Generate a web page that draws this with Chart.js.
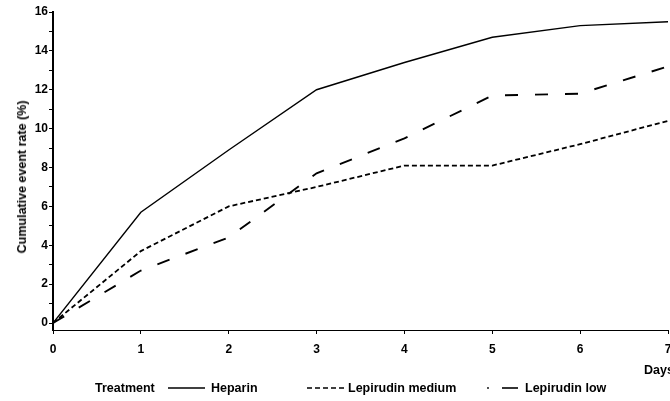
<!DOCTYPE html>
<html>
<head>
<meta charset="utf-8">
<script src="https://cdn.jsdelivr.net/npm/chart.js@4.4.1/dist/chart.umd.min.js"></script>
<style>
  html, body { margin: 0; padding: 0; background: #fff; }
  #wrap { position: relative; width: 670px; height: 401px; overflow: hidden; font-family: "Liberation Sans", Arial, sans-serif; font-weight: bold; font-size: 12.5px; color: #000; }
  canvas { position: absolute; left: 0; top: 0; }
  .lbl { position: absolute; white-space: nowrap; line-height: 14px; }
  svg.leg { position: absolute; overflow: visible; }
  #ytitle { position: absolute; left: 22px; top: 177px; transform: translate(-50%, -50%) rotate(-90deg); white-space: nowrap; line-height: 14px; }
</style>
</head>
<body>
<div id="wrap">
  <canvas id="c" width="670" height="401"></canvas>
  <div id="ytitle">Cumulative event rate (%)</div>
  <div class="lbl" style="left:644px; top:363px;">Days</div>
  <div class="lbl" style="left:95px; top:381px;">Treatment</div>
  <svg class="leg" style="left:0; top:0;" width="670" height="401">
    <line x1="168" y1="388" x2="205" y2="388" stroke="#000" stroke-width="1.3"/>
    <line x1="307" y1="388" x2="344" y2="388" stroke="#000" stroke-width="1.5" stroke-dasharray="5,3"/>
    <circle cx="488" cy="388" r="0.9" fill="#000"/>
    <line x1="502" y1="388" x2="518" y2="388" stroke="#000" stroke-width="1.6"/>
  </svg>
  <div class="lbl" style="left:211px; top:381px;">Heparin</div>
  <div class="lbl" style="left:348px; top:381px;">Lepirudin medium</div>
  <div class="lbl" style="left:525px; top:381px;">Lepirudin low</div>
</div>
<script>
const days = [0, 1, 2, 3, 4, 5, 6, 7];
const heparin = [0, 5.7, 8.9, 12.0, 13.4, 14.7, 15.3, 15.5];
const lepirudinMedium = [0, 3.7, 6.0, 7.0, 8.1, 8.1, 9.2, 10.4];
const lepirudinLow = [0, 2.7, 4.4, 7.7, 9.5, 11.7, 11.8, 13.2];
const yTickValues = [0,1,2,3,4,5,6,7,8,9,10,11,12,13,14,15,16];
const yTickLabels = ['0','','2','','4','','6','','8','','10','','12','','14','','16'];
const xTickValues = [0, 1, 2, 3, 4, 5, 6, 7];
const xTickLabels = ['0', '1', '2', '3', '4', '5', '6', '7'];

const pts = arr => days.map((d, i) => ({x: d, y: arr[i]}));
const tickFont = {family: '"Liberation Sans", Arial, sans-serif', size: 12, weight: 'bold'};

new Chart(document.getElementById('c'), {
  type: 'line',
  data: {
    datasets: [
      {label: 'Heparin', data: pts(heparin), borderColor: '#000', borderWidth: 1.4, pointRadius: 0, tension: 0},
      {label: 'Lepirudin medium', data: pts(lepirudinMedium), borderColor: '#000', borderWidth: 1.8, borderDash: [5, 3], pointRadius: 0, tension: 0},
      {label: 'Lepirudin low', data: pts(lepirudinLow), borderColor: '#000', borderWidth: 1.9, borderDash: [13, 17], pointRadius: 0, tension: 0}
    ]
  },
  options: {
    responsive: false,
    animation: false,
    layout: {padding: {top: 12, right: 2, left: 0, bottom: 0}},
    plugins: {legend: {display: false}, tooltip: {enabled: false}},
    scales: {
      x: {
        type: 'linear', min: 0, max: 7,
        afterBuildTicks: s => { s.ticks = xTickValues.map(v => ({value: v})); },
        afterFit: s => { s.height = 71; s.paddingRight = 0; s.paddingLeft = 0; },
        ticks: {color: '#000', font: tickFont, padding: 8, maxRotation: 0,
          callback: (v) => xTickLabels[xTickValues.indexOf(v)] ?? ''},
        grid: {drawOnChartArea: false, drawTicks: true, tickLength: 4, color: '#000', lineWidth: 1},
        border: {display: true, color: '#000', width: 1}
      },
      y: {
        type: 'linear', min: -0.36, max: 16,
        afterBuildTicks: s => { s.ticks = yTickValues.map(v => ({value: v})); },
        afterFit: s => { s.width = 53; s.paddingTop = 0; s.paddingBottom = 0; },
        ticks: {color: '#000', font: tickFont, padding: 1,
          callback: (v) => yTickLabels[yTickValues.indexOf(v)] ?? ''},
        grid: {drawOnChartArea: false, drawTicks: true, tickLength: 4, color: '#000', lineWidth: 1},
        border: {display: true, color: '#000', width: 2},
        title: {display: false}
      }
    }
  }
});
</script>
</body>
</html>
